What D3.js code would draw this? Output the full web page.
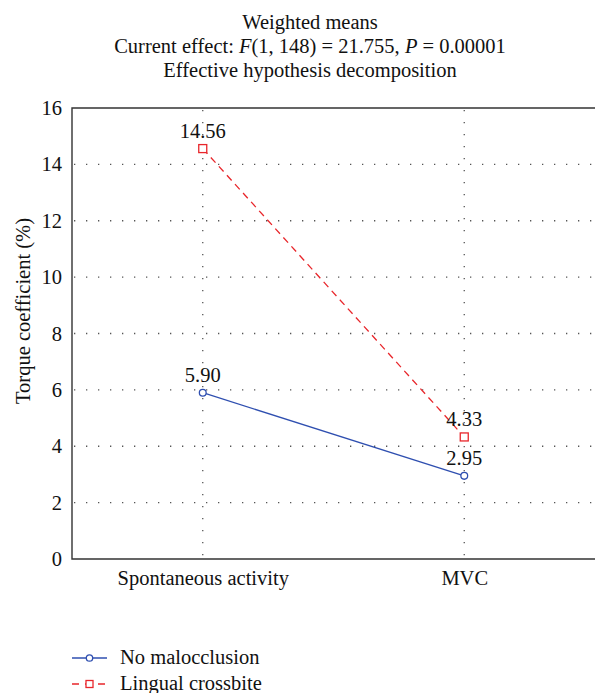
<!DOCTYPE html>
<meta charset="utf-8">
<html>
<head>
  <script src="https://d3js.org/d3.v7.min.js"></script>
  <style>
    body { margin: 0; background: #fff; }
    .grid line { stroke: #555; stroke-width: 1.3; stroke-dasharray: 1.3, 10.7; }
  </style>
</head>
<body>
<script>
  // chart values
  var categories = ["Spontaneous activity", "MVC"];
  var noMalocclusion = [5.90, 2.95];
  var lingualCrossbite = [14.56, 4.33];
  var yTicks = [0, 2, 4, 6, 8, 10, 12, 14, 16];
  var seriesNames = ["No malocclusion", "Lingual crossbite"];

  var width = 595, height = 693;
  var margin = { top: 108, right: 0, bottom: 134, left: 72 };
  var serif = "'Liberation Serif'";
  var fs = 20.5;

  var svg = d3.select("body").append("svg")
    .attr("width", width)
    .attr("height", height);

  var x = d3.scalePoint()
    .domain(categories)
    .range([margin.left, width - margin.right])
    .padding(0.5);

  var y = d3.scaleLinear()
    .domain([0, 16])
    .range([height - margin.bottom, margin.top]);

  function txt(sel) {
    return sel.style("font-family", serif).attr("font-size", fs).attr("fill", "#111");
  }

  // title
  var tx = 310;
  txt(svg.append("text")).attr("x", tx).attr("y", 29)
    .attr("text-anchor", "middle").text("Weighted means");
  var t2 = txt(svg.append("text")).attr("x", tx).attr("y", 53)
    .attr("text-anchor", "middle");
  t2.append("tspan").text("Current effect: ");
  t2.append("tspan").attr("font-style", "italic").text("F");
  t2.append("tspan").text("(1, 148) = 21.755, ");
  t2.append("tspan").attr("font-style", "italic").text("P");
  t2.append("tspan").text(" = 0.00001");
  txt(svg.append("text")).attr("x", tx).attr("y", 77)
    .attr("text-anchor", "middle").text("Effective hypothesis decomposition");

  // grid
  var grid = svg.append("g").attr("class", "grid");
  grid.selectAll("line.h")
    .data(yTicks.filter(function (d) { return d > 0 && d < 16; }))
    .enter().append("line")
    .attr("x1", margin.left + 2).attr("x2", width)
    .attr("y1", function (d) { return y(d); })
    .attr("y2", function (d) { return y(d); });
  grid.selectAll("line.v")
    .data(categories)
    .enter().append("line")
    .attr("x1", function (d) { return x(d); })
    .attr("x2", function (d) { return x(d); })
    .attr("y1", y(16) + 2).attr("y2", y(0));

  // frame (left, top, bottom)
  svg.append("path")
    .attr("d", "M" + width + "," + y(16) + "H" + margin.left + "V" + y(0) + "H" + width)
    .attr("fill", "none").attr("stroke", "#333").attr("stroke-width", 1.4);

  // axes labels
  var yAxis = d3.axisLeft(y).tickValues(yTicks).tickSize(0).tickPadding(10);
  var ya = svg.append("g").attr("transform", "translate(" + margin.left + ",0)").call(yAxis);
  ya.attr("font-family", null);
  ya.select(".domain").remove();
  txt(ya.selectAll("text"));

  var xAxis = d3.axisBottom(x).tickSize(0).tickPadding(11);
  var xa = svg.append("g").attr("transform", "translate(0," + y(0) + ")").call(xAxis);
  xa.attr("font-family", null);
  xa.select(".domain").remove();
  txt(xa.selectAll("text"));

  txt(svg.append("text"))
    .attr("transform", "translate(30,311) rotate(-90)")
    .attr("text-anchor", "middle")
    .text("Torque coefficient (%)");

  var blue = "#2f4fb0", red = "#e8262b";

  var line = d3.line()
    .x(function (d, i) { return x(categories[i]); })
    .y(function (d) { return y(d); });

  svg.append("path").datum(lingualCrossbite)
    .attr("d", line).attr("fill", "none")
    .attr("stroke", red).attr("stroke-width", 1.3).attr("stroke-dasharray", "7,5");
  svg.append("path").datum(noMalocclusion)
    .attr("d", line).attr("fill", "none")
    .attr("stroke", blue).attr("stroke-width", 1.3);

  svg.selectAll("rect.pt").data(lingualCrossbite).enter().append("rect")
    .attr("x", function (d, i) { return x(categories[i]) - 4; })
    .attr("y", function (d) { return y(d) - 4; })
    .attr("width", 8).attr("height", 8)
    .attr("fill", "#fff").attr("stroke", red).attr("stroke-width", 1.3);
  svg.selectAll("circle.pt").data(noMalocclusion).enter().append("circle")
    .attr("cx", function (d, i) { return x(categories[i]); })
    .attr("cy", function (d) { return y(d); })
    .attr("r", 3.4)
    .attr("fill", "#fff").attr("stroke", blue).attr("stroke-width", 1.3);

  // value labels
  function labels(data) {
    txt(svg.selectAll(null).data(data).enter().append("text"))
      .attr("x", function (d, i) { return x(categories[i]); })
      .attr("y", function (d) { return y(d) - 11; })
      .attr("text-anchor", "middle")
      .text(function (d) { return d.toFixed(2); });
  }
  labels(lingualCrossbite);
  labels(noMalocclusion);

  // legend
  var legendStyle = [
    { color: blue, dash: null, shape: "circle" },
    { color: red, dash: "7,6", shape: "square" }
  ];
  seriesNames.forEach(function (name, i) {
    var s = legendStyle[i];
    var ly = 658 + i * 26;
    svg.append("line").attr("x1", 72).attr("x2", 107).attr("y1", ly).attr("y2", ly)
      .attr("stroke", s.color).attr("stroke-width", 1.3)
      .attr("stroke-dasharray", s.dash);
    if (s.shape === "circle") {
      svg.append("circle").attr("cx", 89.5).attr("cy", ly).attr("r", 3.2)
        .attr("fill", "#fff").attr("stroke", s.color).attr("stroke-width", 1.3);
    } else {
      svg.append("rect").attr("x", 86).attr("y", ly - 3.5).attr("width", 7).attr("height", 7)
        .attr("fill", "#fff").attr("stroke", s.color).attr("stroke-width", 1.3);
    }
    txt(svg.append("text")).attr("x", 120).attr("y", ly + 6).text(name);
  });
</script>
</body>
</html>
